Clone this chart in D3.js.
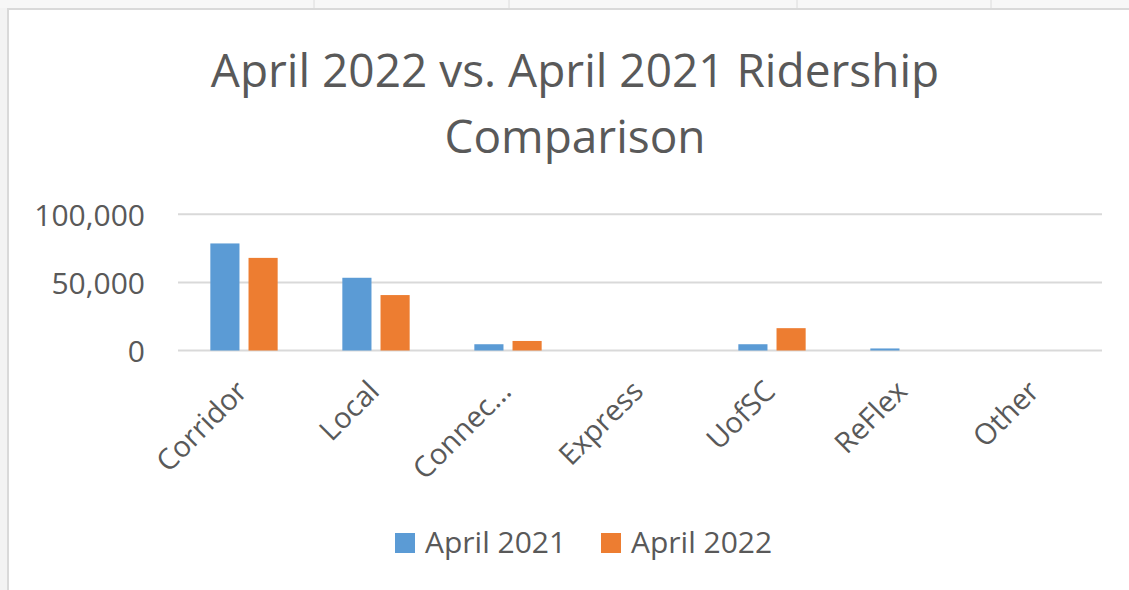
<!DOCTYPE html>
<html>
<head>
<meta charset="utf-8">
<script src="https://cdn.jsdelivr.net/npm/d3@7"></script>
<style>
  html, body { margin: 0; padding: 0; background: #f3f3f3; }
  svg { display: block; font-family: "Open Sans", sans-serif; }
</style>
</head>
<body>
<svg id="chart" width="1129" height="590"></svg>
<script>
const categories = ["Corridor", "Local", "Connec...", "Express", "UofSC", "ReFlex", "Other"];
const seriesNames = ["April 2021", "April 2022"];
const april2021 = [78600, 53400, 4600, 0, 4600, 1500, 0];
const april2022 = [68000, 40700, 7000, 0, 16400, 0, 0];
const yTicks = [0, 50000, 100000];
const colors = ["#5B9BD5", "#ED7D31"];

const data = categories.map((c, i) => ({ cat: c, values: [april2021[i], april2022[i]] }));

const svg = d3.select("#chart");
const W = 1129, H = 590;

// spreadsheet strip behind the chart
svg.append("rect").attr("x", 0).attr("y", 0).attr("width", W).attr("height", 8).attr("fill", "#f7f7f7");
[314, 509, 797, 991].forEach(x => {
  svg.append("line").attr("x1", x).attr("x2", x).attr("y1", 0).attr("y2", 8)
    .attr("stroke", "#dcdcdc").attr("stroke-width", 1);
});

// chart area
svg.append("rect")
  .attr("x", 8).attr("y", 9).attr("width", W).attr("height", H)
  .attr("fill", "#fff").attr("stroke", "#d9d9d9").attr("stroke-width", 2);

// title
const title = svg.append("text")
  .attr("text-anchor", "middle")
  .attr("fill", "#595959")
  .style("font-size", "46px");
title.append("tspan").attr("x", 575).attr("y", 87).text("April 2022 vs. April 2021 Ridership");
title.append("tspan").attr("x", 575).attr("y", 153).text("Comparison");

const x = d3.scaleBand().domain(categories).range([178, 1102]).paddingInner(0.49).paddingOuter(0.245);
const xs = d3.scaleBand().domain([0, 1]).range([0, x.bandwidth()]).paddingInner(0.237);
const y = d3.scaleLinear().domain([0, 100000]).range([350.5, 214.3]);

// gridlines
svg.append("g")
  .selectAll("line")
  .data(yTicks)
  .join("line")
  .attr("x1", 178).attr("x2", 1102)
  .attr("y1", d => y(d)).attr("y2", d => y(d))
  .attr("stroke", "#d9d9d9").attr("stroke-width", 2);

// y axis labels
svg.append("g")
  .selectAll("text")
  .data(yTicks)
  .join("text")
  .attr("x", 145).attr("y", d => y(d))
  .attr("dy", "0.38em")
  .attr("text-anchor", "end")
  .attr("fill", "#595959")
  .style("font-size", "30px")
  .text(d => d3.format(",")(d));

// bars
const groups = svg.append("g")
  .selectAll("g")
  .data(data)
  .join("g")
  .attr("transform", d => `translate(${x(d.cat)},0)`);

groups.selectAll("rect")
  .data(d => d.values.map((v, i) => ({ v, i })))
  .join("rect")
  .attr("x", d => xs(d.i))
  .attr("width", xs.bandwidth())
  .attr("y", d => y(d.v))
  .attr("height", d => y(0) - y(d.v))
  .attr("fill", d => colors[d.i]);

// x labels, rotated
svg.append("g")
  .selectAll("text")
  .data(categories)
  .join("text")
  .attr("transform", d => `translate(${x(d) + x.bandwidth() / 2 + 5},393) rotate(-45)`)
  .attr("text-anchor", "end")
  .attr("fill", "#595959")
  .style("font-size", "29px")
  .text(d => d);

// legend
const legendX = [395, 601];
const legend = svg.append("g")
  .selectAll("g")
  .data(seriesNames)
  .join("g")
  .attr("transform", (d, i) => `translate(${legendX[i]},533)`);

legend.append("rect")
  .attr("width", 20).attr("height", 20)
  .attr("fill", (d, i) => colors[i]);

legend.append("text")
  .attr("x", 30).attr("y", 20)
  .attr("fill", "#595959")
  .style("font-size", "30px")
  .text(d => d);
</script>
</body>
</html>
